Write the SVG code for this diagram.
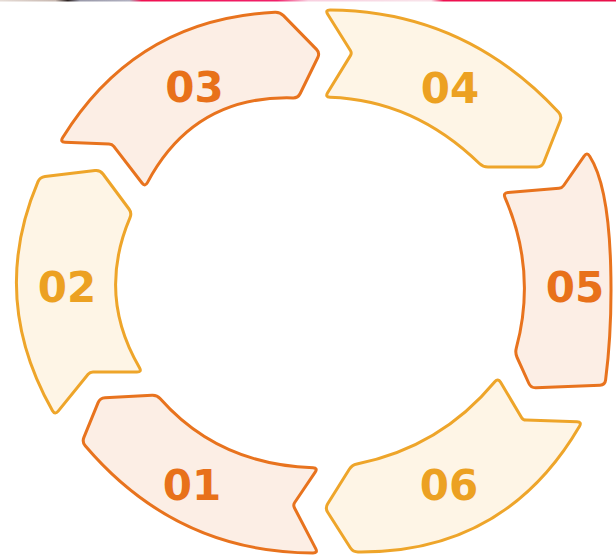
<svg xmlns="http://www.w3.org/2000/svg" width="616" height="557" viewBox="0 0 616 557">
  <defs>
    <linearGradient id="topbar" x1="0" y1="0" x2="1" y2="0">
      <stop offset="0" stop-color="#e6dcd6"/>
      <stop offset="0.09" stop-color="#c8b8b0"/>
      <stop offset="0.11" stop-color="#2a2020"/>
      <stop offset="0.13" stop-color="#9a9aaa"/>
      <stop offset="0.21" stop-color="#b0b0c0"/>
      <stop offset="0.23" stop-color="#f01050"/>
      <stop offset="0.45" stop-color="#f0206a"/>
      <stop offset="0.5" stop-color="#f8d0e0"/>
      <stop offset="0.7" stop-color="#f8e4ea"/>
      <stop offset="0.72" stop-color="#ee1050"/>
      <stop offset="1" stop-color="#e8104a"/>
    </linearGradient>
    <style>
      .dark { fill: #FCEEE5; stroke: #E8731E; stroke-width: 3; stroke-linejoin: round; }
      .amber { fill: #FEF5E6; stroke: #EEA52A; stroke-width: 3; stroke-linejoin: round; }
      .lbl { font-family: "DejaVu Sans", "Open Sans", sans-serif; font-weight: 700; font-size: 42px; text-anchor: middle; }
      .lbl-dark { fill: #E8711A; }
      .lbl-amber { fill: #ECA122; }
    </style>
  </defs>
  <rect x="0" y="0" width="616" height="557" fill="#ffffff"/>
  <rect x="0" y="0" width="616" height="1.5" fill="url(#topbar)"/>

  <g id="node-01">
    <path class="dark" d="M 315.7,548.6 L 294.4,507.7 Q 293,505 294.7,502.5 L 315.2,472.1 Q 318,468 313,467.8 Q 218.5,464.5 160.3,398.7 Q 157,395 152,395.3 L 105,397.7 Q 100,398 98.1,402.6 L 83.9,437.4 Q 82,442 85.2,445.8 Q 176,552.5 313,553 Q 318,553 315.7,548.6 Z"/>
    <text class="lbl lbl-dark" x="192" y="500">01</text>
  </g>
  <g id="node-02">
    <path class="amber" d="M 58.2,411.1 L 88.1,374.3 Q 90,372 93,372 L 137,372 Q 142,372 139.5,367.7 Q 97,295.5 130,217.6 Q 132,213 129,209 L 103,174 Q 100,170 95,170.6 L 45,176.4 Q 40,177 38,181.6 Q -11.5,298 52.5,410.7 Q 55,415 58.2,411.1 Z"/>
    <text class="lbl lbl-amber" x="67" y="301.5">02</text>
  </g>
  <g id="node-03">
    <path class="dark" d="M 65,142.2 L 109,143.9 Q 112,144 113.8,146.4 L 142,183 Q 145,187 147.4,182.6 Q 194,95 293,97.9 Q 298,98 300.2,93.5 L 317.8,57.5 Q 320,53 316.5,49.4 L 283.5,15.6 Q 280,12 275,12.2 Q 136,19 62.6,137.7 Q 60,142 65,142.2 Z"/>
    <text class="lbl lbl-dark" x="194.5" y="102">03</text>
  </g>
  <g id="node-04">
    <path class="amber" d="M 327.7,14.2 L 350.4,50.5 Q 352,53 350.4,55.6 L 327.6,92.7 Q 325,97 330,97.2 Q 414,100 479.4,163.5 Q 483,167 488,167 L 537,167 Q 542,167 543.8,162.3 L 560.2,120.7 Q 562,116 558.6,112.3 Q 464.5,11 330,10 Q 325,10 327.7,14.2 Z"/>
    <text class="lbl lbl-amber" x="450" y="103">04</text>
  </g>
  <g id="node-05">
    <path class="dark" d="M 584.1,156.1 L 563.7,185.5 Q 562,188 559,188.3 L 508,192.6 Q 503,193 505,197.6 Q 537,271 516.3,348.2 Q 515,353 517.1,357.5 L 528.9,383.5 Q 531,388 536,387.8 L 600,385.2 Q 605,385 605.6,380 C 612,330 618,200 589.7,156.2 Q 587,152 584.1,156.1 Z"/>
    <text class="lbl lbl-dark" x="575" y="301.5">05</text>
  </g>
  <g id="node-06">
    <path class="amber" d="M 577,421.8 L 526,420.1 Q 523,420 521.5,417.4 L 500.6,382.3 Q 498,378 494.8,381.8 Q 440.4,447.3 356.9,464 Q 352,465 349.3,469.2 L 327.7,503.8 Q 325,508 327.7,512.2 L 350.3,547.8 Q 353,552 358,552 Q 505.1,553.4 579.5,426.3 Q 582,422 577,421.8 Z"/>
    <text class="lbl lbl-amber" x="449" y="500">06</text>
  </g>
  <g id="connectors"></g>
</svg>
